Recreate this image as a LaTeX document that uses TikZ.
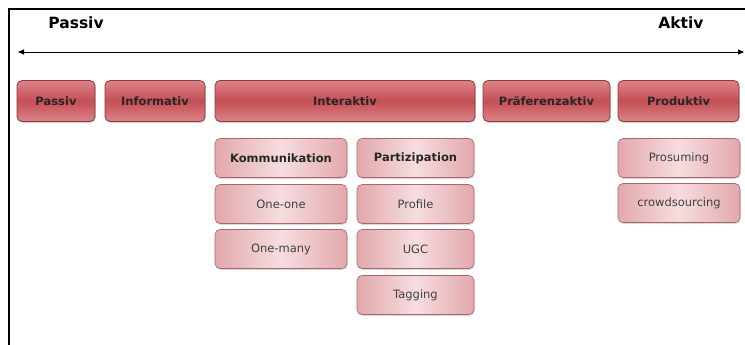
\documentclass[tikz,border=0pt]{standalone}
\usepackage{fontspec}
\setmainfont{DejaVu Sans}
\usetikzlibrary{arrows.meta,shadows}
\definecolor{redmid}{HTML}{C44F55}
\definecolor{redlight}{HTML}{DC8387}
\definecolor{redline}{HTML}{8E3A3F}
\definecolor{pinklight}{HTML}{F6DDDF}
\definecolor{pinkmid}{HTML}{E2A8AC}
\definecolor{pinkline}{HTML}{A9676C}
\tikzset{
    topbox/.style={draw=redline, line width=0.8pt, rounded corners=5pt,
        top color=redlight, bottom color=redlight, middle color=redmid,
        minimum height=41pt, inner sep=0pt, font=\fontsize{11.5}{13}\selectfont\bfseries,
        text=black!85, drop shadow={shadow xshift=0.8pt, shadow yshift=-1.5pt, opacity=0.35}},
    subbox/.style={draw=pinkline, line width=0.6pt, rounded corners=5pt,
        left color=pinkmid, right color=pinkmid, middle color=pinklight,
        minimum height=39pt, inner sep=0pt, font=\fontsize{11.5}{13}\selectfont,
        text=black!75, drop shadow={shadow xshift=0.6pt, shadow yshift=-1.5pt, opacity=0.3}},
    subhead/.style={subbox, font=\fontsize{11.5}{13}\selectfont\bfseries, text=black!85},
    title/.style={font=\fontsize{15.5}{18}\selectfont\bfseries}
}
\begin{document}
\begin{tikzpicture}[x=1pt, y=-1pt]
    \useasboundingbox (0,0) rectangle (745,345);
    % frame
    \draw[line width=1.5pt] (9,345) -- (9,9) -- (745,9);
    % scale from passiv to aktiv
    \node[title] (tpassiv) at (76,23) {Passiv};
    \node[title] (taktiv) at (681,23) {Aktiv};
    \coordinate (l) at (18,52);
    \coordinate (r) at (744,52);
    \draw[{Triangle[length=6pt,width=5pt]}-{Triangle[length=6pt,width=5pt]}, line width=0.9pt] (l) -- (r);
    % top row
    \foreach \nm/\cx/\w/\txt in {passiv/56/78/Passiv, informativ/155/100/Informativ,
        interaktiv/345/260/Interaktiv, praef/546.5/127/Präferenzaktiv, produktiv/678.5/121/Produktiv}
        \node[topbox, minimum width=\w] (\nm) at (\cx,101) {\txt};
    % sub boxes
    \node[subhead, minimum width=132] (komm) at (281,158) {Kommunikation};
    \node[subhead, minimum width=117] (part) at (415.5,158) {Partizipation};
    \node[subbox, minimum width=132] (oneone) at (281,204) {One-one};
    \node[subbox, minimum width=132] (onemany) at (281,249) {One-many};
    \node[subbox, minimum width=117] (profile) at (415.5,204) {Profile};
    \node[subbox, minimum width=117] (ugc) at (415.5,249) {UGC};
    \node[subbox, minimum width=117] (tagging) at (415.5,295) {Tagging};
    \node[subbox, minimum width=122] (prosuming) at (679,158) {Prosuming};
    \node[subbox, minimum width=122] (crowd) at (679,203) {crowdsourcing};
\end{tikzpicture}
\end{document}
